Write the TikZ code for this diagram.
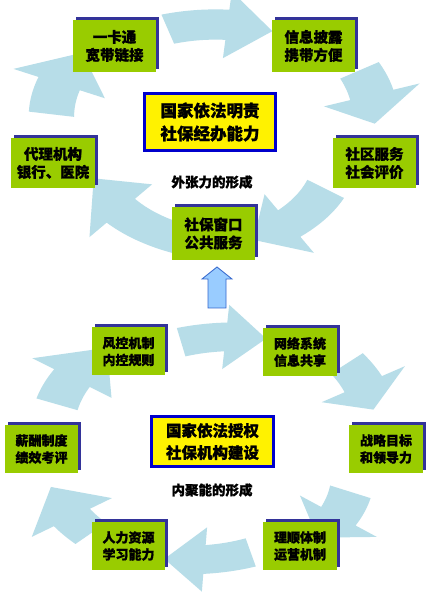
\documentclass[tikz,border=0pt]{standalone}
\usepackage{fontspec}
\newfontfamily\cjk[FakeBold=1.2]{Noto Sans CJK SC Bold}
\usetikzlibrary{shadows}

\definecolor{boxgreen}{RGB}{153,204,0}
\definecolor{shadownavy}{RGB}{51,51,153}
\definecolor{ringblue}{RGB}{183,221,232}
\definecolor{frameblue}{RGB}{0,0,204}
\definecolor{upfill}{RGB}{153,204,255}
\definecolor{upline}{RGB}{51,102,204}

\tikzset{
  greenbox/.style={fill=boxgreen, align=center, inner sep=0pt,
    general shadow={fill=shadownavy, shadow xshift=3pt, shadow yshift=3pt}},
  topbox/.style={greenbox, minimum width=83pt, minimum height=52pt,
    font=\cjk\bfseries\fontsize{14.5}{18}\selectfont},
  lowbox/.style={greenbox, minimum width=73pt, minimum height=48pt,
    font=\cjk\bfseries\fontsize{13}{17}\selectfont},
  lawbox/.style={fill=yellow, draw=frameblue, line width=3pt, align=center, inner sep=0pt},
  caption/.style={font=\cjk\bfseries\fontsize{13.5}{16}\selectfont},
  ringarrow/.style={fill=ringblue}
}

% curved block arrow on the unit ring: tail angle, head base angle, tip angle, tail radius, tip radius
\newcommand\ringarrow[5]{%
  \pgfmathsetmacro\rmid{#4+(#5-(#4))*((#2)-(#1))/((#3)-(#1))}
  \fill[ringarrow]
    plot[domain=#1:#2, samples=24, variable=\t]
      ({(#4+(#5-(#4))*(\t-(#1))/((#3)-(#1))+\bandw)*cos(\t)},
       {(#4+(#5-(#4))*(\t-(#1))/((#3)-(#1))+\bandw)*sin(\t)})
    -- ({(\rmid+\headw)*cos(#2)},{(\rmid+\headw)*sin(#2)})
    -- ({#5*cos(#3)},{#5*sin(#3)})
    -- ({(\rmid-\headw)*cos(#2)},{(\rmid-\headw)*sin(#2)})
    -- plot[domain=#2:#1, samples=24, variable=\t]
      ({(#4+(#5-(#4))*(\t-(#1))/((#3)-(#1))-\bandw)*cos(\t)},
       {(#4+(#5-(#4))*(\t-(#1))/((#3)-(#1))-\bandw)*sin(\t)})
    -- cycle;}

\begin{document}
\begin{tikzpicture}[x=1pt, y=1pt]
  \useasboundingbox (0,0) rectangle (436,593);
  \fill[white] (0,0) rectangle (436,593);

  \coordinate (outerc) at (213,460);
  \coordinate (innerc) at (213.5,144);

  % outer cycle
  \begin{scope}[shift={(outerc)}, xscale=164, yscale=108]
    \def\bandw{0.14}\def\headw{0.31}
    \ringarrow{106}{85}{69}{1.0}{1.01}
    \ringarrow{33}{20}{5}{1.065}{0.99}
    \ringarrow{-37}{-61}{-76}{0.86}{1.02}
    \ringarrow{258}{232}{210}{1.0}{0.84}
    \ringarrow{170}{154}{137}{1.0}{1.09}
  \end{scope}

  % inner cycle
  \begin{scope}[shift={(innerc)}, xscale=173, yscale=111]
    \def\bandw{0.13}\def\headw{0.29}
    \ringarrow{101}{86}{73}{0.98}{1.04}
    \ringarrow{45}{34}{21}{1.09}{0.99}
    \ringarrow{-26}{-40}{-53}{0.88}{1.0}
    \ringarrow{-77}{-93}{-106}{0.956}{1.03}
    \ringarrow{227}{217}{200}{1.04}{1.0}
    \ringarrow{156}{142}{124}{0.99}{1.1}
  \end{scope}

  \node[topbox] (card) at (114.5,547) {一卡通\\宽带链接};
  \node[topbox] (info) at (313.5,547) {信息披露\\携带方便};
  \node[topbox, minimum width=84pt, minimum height=50pt] (agent) at (53,430) {代理机构\\银行、医院};
  \node[topbox, minimum height=50pt] (comm) at (374.5,430) {社区服务\\社会评价};
  \node[topbox, minimum height=53pt] (window) at (213.5,359.5) {社保窗口\\公共服务};
  \node[lawbox, minimum width=131pt, minimum height=57pt,
        font=\cjk\bfseries\fontsize{16.5}{23}\selectfont] (duty) at (210,471) {国家依法明责\\社保经办能力};
  \node[caption] (outcap) at (212,411) {外张力的形成};

  \node[lowbox] (risk) at (128.5,241.5) {风控机制\\内控规则};
  \node[lowbox, minimum width=74pt] (net) at (300,241) {网络系统\\信息共享};
  \node[lowbox] (pay) at (41.5,144) {薪酬制度\\绩效考评};
  \node[lowbox, minimum width=74pt] (goal) at (386,144) {战略目标\\和领导力};
  \node[lowbox] (hr) at (128.5,47) {人力资源\\学习能力};
  \node[lowbox, minimum width=74pt] (sys) at (300,47) {理顺体制\\运营机制};
  \node[lawbox, minimum width=122pt, minimum height=50pt,
        font=\cjk\bfseries\fontsize{15.5}{22}\selectfont] (auth) at (212.5,151.5) {国家依法授权\\社保机构建设};
  \node[caption] (incap) at (212,103) {内聚能的形成};

  % link between the two cycles
  \coordinate (uptip) at (217,326);
  \coordinate (upfoot) at (217,285);
  \filldraw[fill=upfill, draw=upline, line width=0.8pt]
    (uptip) -- ++(15,-12) -- ++(-6,0) |- (upfoot) -- ++(-9,0) |- ++(-6,29) -- cycle;
\end{tikzpicture}
\end{document}
